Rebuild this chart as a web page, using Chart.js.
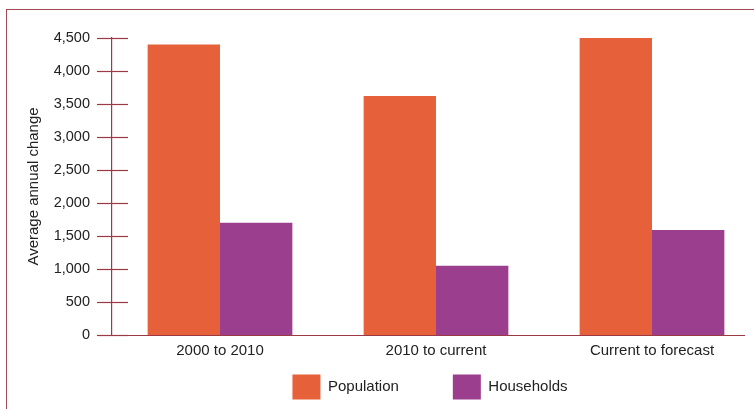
<!DOCTYPE html>
<html>
<head>
<meta charset="utf-8">
<script src="https://cdn.jsdelivr.net/npm/chart.js@4.4.1/dist/chart.umd.min.js"></script>
<style>
  html, body { margin: 0; padding: 0; background: #fff; overflow: hidden; }
  body { width: 754px; height: 409px; position: relative; }
  #frame {
    position: absolute; left: 6px; top: 9px; width: 800px; height: 420px;
    border-top: 1.5px solid #a44a55; border-left: 1.5px solid #a44a55;
  }
  #wrap { position: absolute; left: 0; top: 0; width: 760px; height: 409px; }
</style>
</head>
<body>
<div id="frame"></div>
<div id="wrap"><canvas id="chart"></canvas></div>
<script>
// Datos
const categories = ['2000 to 2010', '2010 to current', 'Current to forecast'];
const population = [4400, 3620, 4530];
const households = [1700, 1050, 1590];
const yTicks = [0, 500, 1000, 1500, 2000, 2500, 3000, 3500, 4000, 4500];

const axisColor = '#9b3a45';
const family = '"Liberation Sans", Arial, sans-serif';
const font = { family, size: 15 };
const tickFont = { family, size: 14.5 };
const legendGap = 54;

// Marcas del eje Y que cruzan la línea del eje, y línea base del eje X
const axisMarks = {
  id: 'axisMarks',
  afterDraw(chart) {
    const { ctx, chartArea, scales } = chart;
    const y = scales.y;
    const x0 = chartArea.left;
    ctx.save();
    ctx.strokeStyle = axisColor;
    ctx.lineWidth = 1.2;
    y.ticks.forEach(t => {
      const py = Math.round(y.getPixelForValue(t.value)) + 0.5;
      ctx.beginPath();
      ctx.moveTo(x0 - 15, py);
      ctx.lineTo(x0 + 16, py);
      ctx.stroke();
    });
    const base = Math.round(y.getPixelForValue(0)) + 0.5;
    ctx.beginPath();
    ctx.moveTo(x0 - 15, base);
    ctx.lineTo(chartArea.right - 15, base);
    ctx.stroke();
    ctx.restore();
  }
};

// El padding grande separa los items de la leyenda; se sube la caja para compensar
const legendLift = {
  id: 'legendLift',
  afterLayout(chart) {
    const lg = chart.legend;
    if (!lg) return;
    const d = legendGap - 7.5;
    lg.top -= d;
    lg.bottom -= d;
    lg.left -= 6;
    lg.right -= 6;
  }
};

new Chart(document.getElementById('chart'), {
  type: 'bar',
  data: {
    labels: categories,
    datasets: [
      { label: 'Population', data: population, backgroundColor: '#e6603a' },
      { label: 'Households', data: households, backgroundColor: '#9b3e8e' }
    ]
  },
  options: {
    responsive: true,
    maintainAspectRatio: false,
    animation: false,
    layout: { padding: { top: 38, left: 25, right: 0, bottom: -(legendGap - 7) } },
    datasets: { bar: { barPercentage: 1.0, categoryPercentage: 0.67 } },
    scales: {
      x: {
        grid: { display: false, drawTicks: false },
        border: { display: false },
        ticks: { color: '#222', font, padding: 7, maxRotation: 0 }
      },
      y: {
        min: 0,
        max: 4500,
        afterBuildTicks: (scale) => { scale.ticks = yTicks.map(v => ({ value: v })); },
        afterFit: (scale) => { scale.width = 87; },
        grid: { display: false, drawTicks: false },
        border: { display: true, color: axisColor, width: 1.2 },
        ticks: {
          color: '#222', font: tickFont, padding: 22,
          callback: v => v.toLocaleString('en-US')
        },
        title: {
          display: true, text: 'Average annual change', color: '#222', font,
          padding: { top: 0, bottom: 10 }
        }
      }
    },
    plugins: {
      legend: {
        position: 'bottom',
        fullSize: false,
        labels: {
          boxWidth: 28, boxHeight: 25, padding: legendGap,
          color: '#222', font
        }
      },
      tooltip: { enabled: false }
    }
  },
  plugins: [axisMarks, legendLift]
});
</script>
</body>
</html>
